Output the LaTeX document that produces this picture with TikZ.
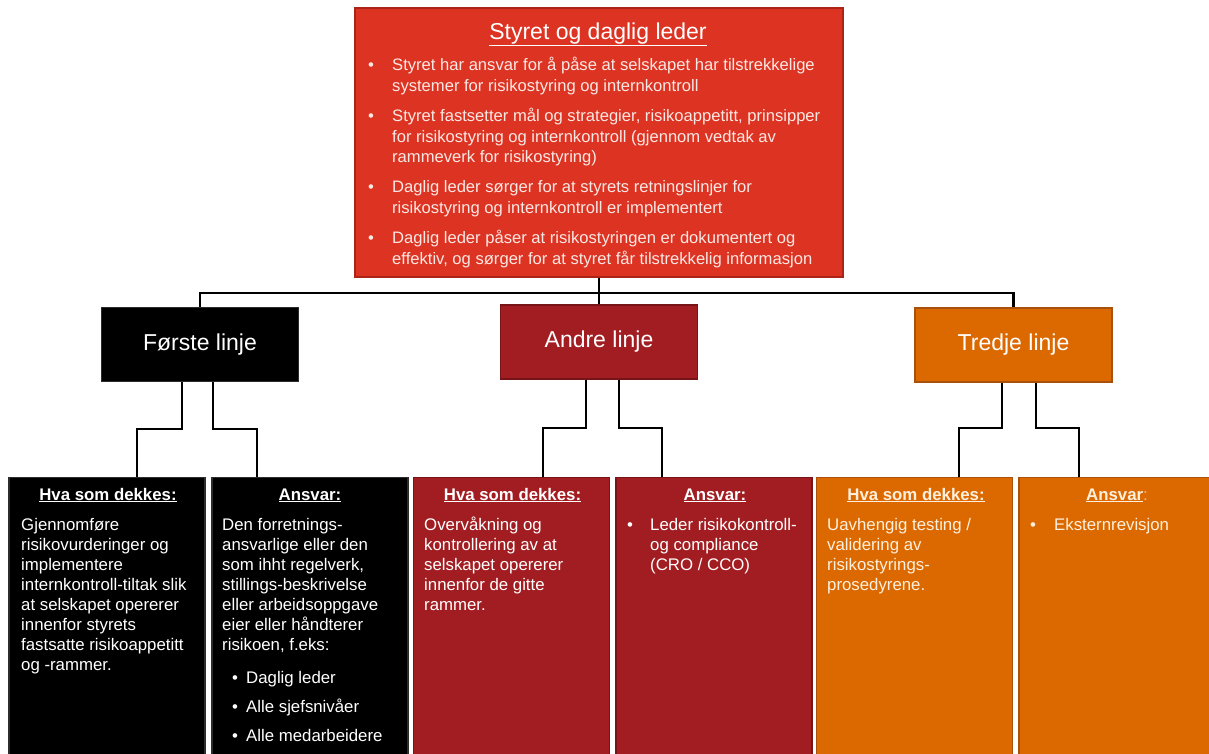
\documentclass[tikz,border=0pt]{standalone}
\usepackage{fontspec}
\setmainfont{Liberation Sans}
\definecolor{topred}{RGB}{221,51,34}
\definecolor{topredb}{RGB}{172,36,24}
\definecolor{andre}{RGB}{162,29,33}
\definecolor{andreb}{RGB}{118,20,24}
\definecolor{orng}{RGB}{219,105,0}
\definecolor{orngb}{RGB}{168,80,12}
\definecolor{blk}{RGB}{0,0,0}
\definecolor{blkb}{RGB}{45,45,45}
\definecolor{toptext}{RGB}{250,232,228}
\definecolor{orngtext}{RGB}{255,240,222}
\tikzset{
  conn/.style={draw=black, line width=2.7pt, line join=miter},
  boxbase/.style={rectangle, line width=1.3pt, inner sep=0pt},
  lvlbox/.style={boxbase, minimum width=197pt, minimum height=74pt, text=white, font=\fontsize{23}{27}\selectfont},
  subbox/.style={boxbase, anchor=north, minimum width=196pt, minimum height=320pt},
  toptxt/.style={anchor=base west, inner sep=0pt, text=toptext, font=\fontsize{16.6}{20}\selectfont},
  body/.style={anchor=base west, inner sep=0pt, text=white, font=\fontsize{16.8}{20}\selectfont},
  head/.style={anchor=base, inner sep=0pt, text=white, font=\fontsize{16.8}{20}\selectfont\bfseries},
}
\begin{document}
\begin{tikzpicture}[x=1pt, y=-1pt]
\useasboundingbox (0,0) rectangle (1209,753);
\clip (0,0) rectangle (1209,753);
\fill[white] (0,0) rectangle (1209,753);

% top box
\node[boxbase, draw=topredb, fill=topred, minimum width=488pt, minimum height=269pt] (top) at (599,142.5) {};
\node[anchor=base, inner sep=0pt, text=white, font=\fontsize{23}{27}\selectfont] (title) at (598,39) {\underline{Styret og daglig leder}};
\foreach \y [count=\i] in {70,121,192,243}
  \node[toptxt] (tb\i) at (368,\y) {•};
\foreach \y/\t [count=\i] in {
  70/{Styret har ansvar for å påse at selskapet har tilstrekkelige},
  91/{systemer for risikostyring og internkontroll},
  121/{Styret fastsetter mål og strategier, risikoappetitt, prinsipper},
  142/{for risikostyring og internkontroll (gjennom vedtak av},
  162/{rammeverk for risikostyring)},
  192/{Daglig leder sørger for at styrets retningslinjer for},
  213/{risikostyring og internkontroll er implementert},
  243/{Daglig leder påser at risikostyringen er dokumentert og},
  264/{effektiv, og sørger for at styret får tilstrekkelig informasjon}}
  \node[toptxt] (tl\i) at (392,\y) {\t};

% level boxes
\node[lvlbox, draw=blkb, fill=blk] (l1) at (200,344.5) {Første linje};
\node[lvlbox, draw=andreb, fill=andre] (l2) at (599,342) {Andre linje};
\node[lvlbox, draw=orngb, fill=orng] (l3) at (1013.5,345) {Tredje linje};

% bottom boxes
\node[subbox, draw=blkb, fill=blk] (b1) at (107,477) {};
\node[subbox, draw=blkb, fill=blk] (b2) at (310,477) {};
\node[subbox, draw=andreb, fill=andre] (b3) at (511.5,477) {};
\node[subbox, draw=andreb, fill=andre] (b4) at (714,477) {};
\node[subbox, draw=orngb, fill=orng] (b5) at (914.5,477) {};
\node[subbox, draw=orngb, fill=orng] (b6) at (1117,477) {};

% connectors
\coordinate (bus) at (599,293);
\draw[conn] (top.south) -- (l2.north);
\draw[conn] (l1.north) |- (bus) -| (l3.north);

\coordinate (k1) at (137,429);
\coordinate (k2) at (257,429);
\coordinate (k3) at (543,428);
\coordinate (k4) at (662,428);
\coordinate (k5) at (959,428);
\coordinate (k6) at (1079,428);
\draw[conn] ([xshift=-18pt]l1.south) |- (k1) -- (k1 |- b1.north);
\draw[conn] ([xshift=13pt]l1.south) |- (k2) -- (k2 |- b2.north);
\draw[conn] ([xshift=-13pt]l2.south) |- (k3) -- (k3 |- b3.north);
\draw[conn] ([xshift=20pt]l2.south) |- (k4) -- (k4 |- b4.north);
\draw[conn] ([xshift=-11.5pt]l3.south) |- (k5) -- (k5 |- b5.north);
\draw[conn] ([xshift=22.5pt]l3.south) |- (k6) -- (k6 |- b6.north);

% headings
\node[head] (h1) at (108,500) {\underline{Hva som dekkes:}};
\node[head] (h2) at (310,500) {\underline{Ansvar:}};
\node[head] (h3) at (512.5,500) {\underline{Hva som dekkes:}};
\node[head] (h4) at (715,500) {\underline{Ansvar:}};
\node[head, text=orngtext] (h5) at (916,500) {\underline{Hva som dekkes:}};
\node[head, text=orngtext] (h6) at (1117,500) {\underline{Ansvar}\mdseries\textcolor{orngtext!60!orng}{:}};

% box 1 text
\foreach \y/\t [count=\i] in {
  530/{Gjennomføre}, 550/{risikovurderinger og}, 570/{implementere},
  590/{internkontroll-tiltak slik}, 610/{at selskapet opererer},
  630/{innenfor styrets}, 650/{fastsatte risikoappetitt}, 670/{og -rammer.}}
  \node[body] (ta\i) at (21,\y) {\t};

% box 2 text
\foreach \y/\t [count=\i] in {
  530/{Den forretnings-}, 550/{ansvarlige eller den}, 570/{som ihht regelverk,},
  590/{stillings-beskrivelse}, 610/{eller arbeidsoppgave},
  630/{eier eller håndterer}, 650/{risikoen, f.eks:}}
  \node[body] (tb2\i) at (222,\y) {\t};
\foreach \y/\t [count=\i] in {683/{Daglig leder}, 712/{Alle sjefsnivåer}, 741/{Alle medarbeidere}}{
  \node[body] (bu\i) at (232,\y) {•};
  \node[body] (bt\i) at (246,\y) {\t};
}

% box 3 text
\foreach \y/\t [count=\i] in {
  530/{Overvåkning og}, 550/{kontrollering av at}, 570/{selskapet opererer},
  590/{innenfor de gitte}, 610/{rammer.}}
  \node[body] (tc\i) at (424,\y) {\t};

% box 4 text
\node[body] (tdb) at (627,530) {•};
\foreach \y/\t [count=\i] in {
  530/{Leder risikokontroll-}, 550/{og compliance}, 570/{(CRO / CCO)}}
  \node[body] (td\i) at (650,\y) {\t};

% box 5 text
\foreach \y/\t [count=\i] in {
  530/{Uavhengig testing /}, 550/{validering av}, 570/{risikostyrings-},
  590/{prosedyrene.}}
  \node[body, text=orngtext] (te\i) at (827,\y) {\t};

% box 6 text
\node[body, text=orngtext] (tfb) at (1030,530) {•};
\node[body, text=orngtext] (tf1) at (1054,530) {Eksternrevisjon};
\end{tikzpicture}
\end{document}
